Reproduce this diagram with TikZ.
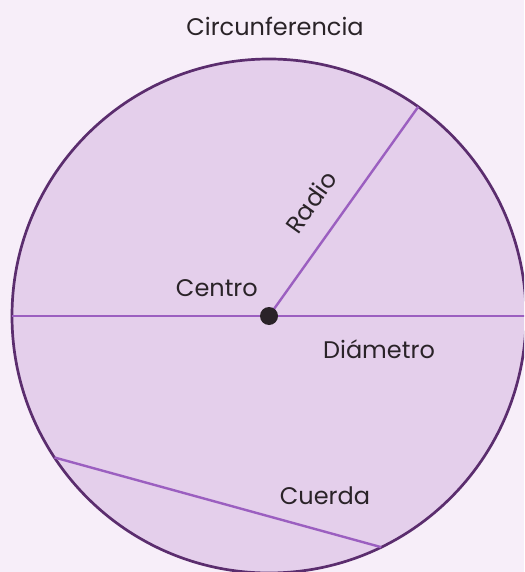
\documentclass[tikz,border=0pt]{standalone}
\usepackage{fontspec}
\setmainfont{Poppins}
\usetikzlibrary{positioning, calc}
\definecolor{cBack}{HTML}{F7EEF9}
\definecolor{cFill}{HTML}{E4CFEB}
\definecolor{cRim}{HTML}{5B2D6E}
\definecolor{cLine}{HTML}{9B5FC0}
\definecolor{cText}{HTML}{2A2328}
\tikzset{
  rim/.style={draw=cRim, fill=cFill, line width=2.7pt},
  seg/.style={draw=cLine, line width=2.4pt},
  lbl/.style={font=\fontsize{24}{27}\selectfont, text=cText, inner sep=0pt},
  centerdot/.style={circle, fill=cText, minimum size=18pt, inner sep=0pt},
}
\begin{document}
\begin{tikzpicture}[x=1pt, y=-1pt]

  % ----------------------------------------------------------------
  % Canvas
  % ----------------------------------------------------------------
  \fill[cBack] (0,0) rectangle (524,572);
  \useasboundingbox (0,0) rectangle (524,572);
  \begin{scope}
    \clip (0,0) rectangle (524,572);

    \coordinate (O) at (269,316);
    \draw[rim] (O) circle[radius=257pt];

    % points on the rim
    \coordinate (dL) at ($(O)+(180:257pt)$);
    \coordinate (dR) at ($(O)+(0:257pt)$);
    \coordinate (rT) at ($(O)+(54.5:257pt)$);
    \coordinate (cA) at ($(O)+(213.4:257pt)$);
    \coordinate (cB) at ($(O)+(295.9:257pt)$);

    % ----------------------------------------------------------------
    % Segments
    % ----------------------------------------------------------------
    \draw[seg] (dL) -- (dR);
    \draw[seg] (O) -- (rT);
    \draw[seg] (cA) -- (cB);
  \end{scope}

  \node[centerdot] (centro) at (O) {};

  % ----------------------------------------------------------------
  % Labels
  % ----------------------------------------------------------------
  \node[lbl] (titulo) at (275,26) {Circunferencia};
  \node[lbl, above left=19pt and 11pt of centro.center, anchor=south east] (lcentro) {Centro};
  \node[lbl] (ldiam) at (379,349) {Diámetro};
  \node[lbl, rotate=54.5] (lradio) at (311,202) {Radio};
  \node[lbl] (lcuerda) at (325,496) {Cuerda};

\end{tikzpicture}
\end{document}
